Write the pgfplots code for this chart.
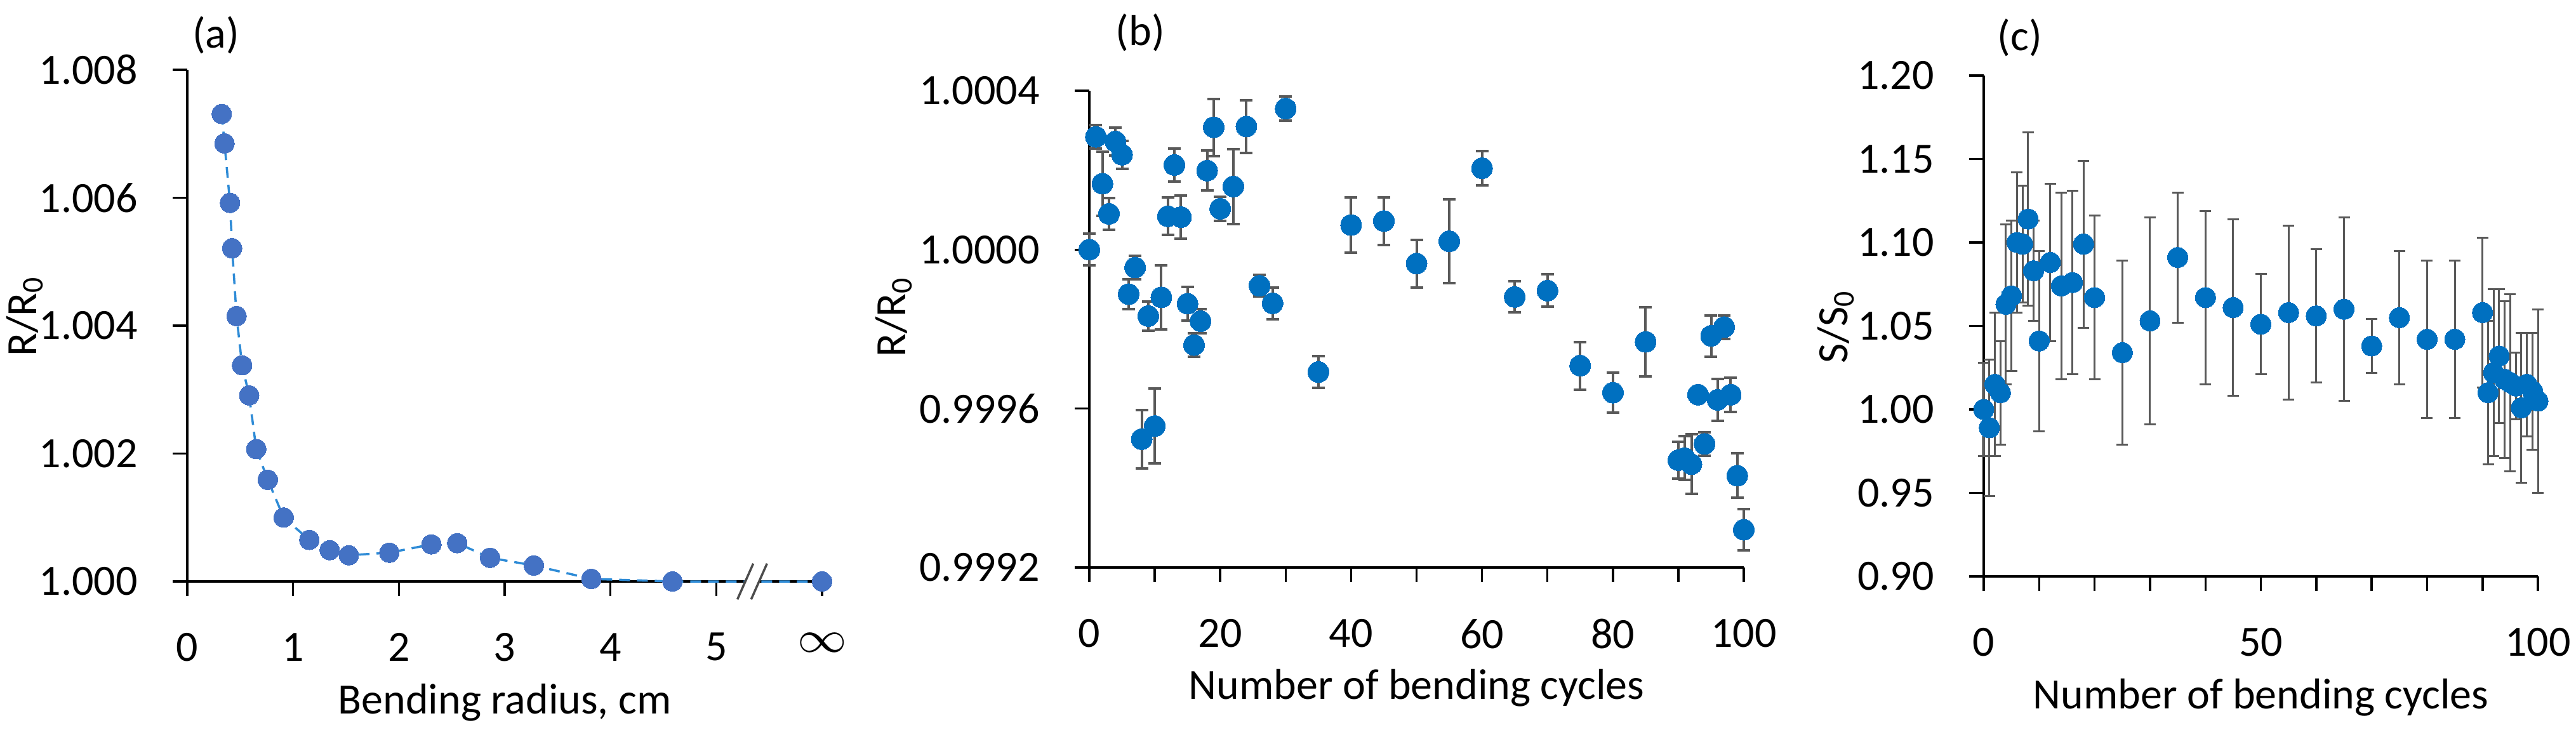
\documentclass[border=0pt]{standalone}
\usepackage{fontspec}
\setmainfont{Carlito}
\usepackage{pgfplots}
\usepackage{pgfplotstable}
\pgfplotsset{compat=1.18}

\definecolor{ptA}{HTML}{4472C4}
\definecolor{lnA}{HTML}{2E8BD6}
\definecolor{ptB}{HTML}{0070C0}
\definecolor{errc}{HTML}{595959}
\newcommand\fsz{\fontsize{6.8pt}{8pt}\selectfont}

% (a) R/R0 against bending radius; r = 6 stands for infinity
\pgfplotstableread{
r ratio
0.326 1.00731
0.352 1.00685
0.404 1.00592
0.424 1.00521
0.466 1.00415
0.518 1.00338
0.585 1.00291
0.652 1.00207
0.761 1.00159
0.911 1.00100
1.154 1.00065
1.346 1.00049
1.527 1.00041
1.910 1.00045
2.308 1.00058
2.552 1.00060
2.862 1.00037
3.276 1.00025
3.820 1.00004
4.586 1.00000
6.000 1.00000
}\bendtab

% (b) R/R0 against cycles, stored as dev = (R/R0 - 1)*1e4 to keep precision
\pgfplotstableread{
n dev err
0 0.00 0.40
1 2.84 0.30
2 1.66 0.80
3 0.90 0.40
4 2.72 0.35
5 2.39 0.35
6 -1.12 0.37
7 -0.45 0.30
8 -4.77 0.74
9 -1.67 0.37
10 -4.44 0.94
11 -1.20 0.80
12 0.84 0.47
13 2.13 0.42
14 0.82 0.55
15 -1.36 0.43
16 -2.40 0.30
17 -1.80 0.30
18 1.99 0.50
19 3.08 0.72
20 1.03 0.30
22 1.59 0.94
24 3.10 0.66
26 -0.91 0.27
28 -1.35 0.40
30 3.55 0.30
35 -3.08 0.40
40 0.62 0.70
45 0.72 0.60
50 -0.35 0.60
55 0.21 1.05
60 2.05 0.43
65 -1.19 0.39
70 -1.03 0.41
75 -2.92 0.60
80 -3.60 0.50
85 -2.32 0.87
90 -5.30 0.47
91 -5.25 0.55
92 -5.40 0.75
93 -3.65 0.10
94 -4.89 0.30
95 -2.17 0.52
96 -3.78 0.53
97 -1.95 0.30
98 -3.65 0.43
99 -5.69 0.56
100 -7.05 0.52
}\cycR

% (c) S/S0 against cycles
\pgfplotstableread{
n s err
0 1.000 0.028
1 0.989 0.041
2 1.015 0.043
3 1.010 0.031
4 1.063 0.048
5 1.068 0.045
6 1.100 0.042
7 1.099 0.035
8 1.114 0.052
9 1.083 0.030
10 1.041 0.054
12 1.088 0.047
14 1.074 0.056
16 1.076 0.055
18 1.099 0.050
20 1.067 0.049
25 1.034 0.055
30 1.053 0.062
35 1.091 0.039
40 1.067 0.052
45 1.061 0.053
50 1.051 0.030
55 1.058 0.052
60 1.056 0.040
65 1.060 0.055
70 1.038 0.016
75 1.055 0.040
80 1.042 0.047
85 1.042 0.047
90 1.058 0.045
91 1.010 0.043
92 1.022 0.050
93 1.032 0.040
94 1.018 0.047
95 1.016 0.053
96 1.014 0.020
97 1.001 0.045
98 1.015 0.031
99 1.011 0.035
100 1.005 0.055
}\cycS

\pgfplotsset{
  excel/.style={
    scale only axis, anchor=south west,
    axis lines=left, axis line style={-, line width=0.35pt},
    tick align=outside, major tick length=2.3pt,
    tick style={black, line width=0.35pt},
    every tick label/.append style={font=\fsz},
    xticklabel style={yshift=-2.3pt},
    yticklabel style={xshift=-2pt},
    enlargelimits=false, clip=false, scaled ticks=false,
  },
  dots/.style={ptB, only marks, mark=*, mark size=#1,
    mark options={draw=ptB, fill=ptB, line width=0pt}},
}

\begin{document}
\begin{tikzpicture}
\useasboundingbox (0,0) rectangle (405.8pt,-114.9pt);

% ---- (a)
\begin{axis}[excel, at={(29.5pt,-91.6pt)}, width=100pt, height=80.6pt,
  xmin=0, xmax=6, ymin=1, ymax=1.008,
  xtick={0,1,2,3,4,5,6}, xticklabels={0,1,2,3,4,5,$\infty$},
  ytick={1,1.002,1.004,1.006,1.008},
  yticklabels={1.000,1.002,1.004,1.006,1.008},
]
\addplot[lnA, line width=0.35pt, dash pattern=on 1.7pt off 1.1pt,
  mark=*, mark size=1.55pt, mark options={solid, draw=ptA, line width=0pt, fill=ptA}]
  table[x=r, y=ratio] {\bendtab};
\fill[white] (axis cs:5.20,0.99972) -- (axis cs:5.33,0.99972)
  -- (axis cs:5.48,1.00028) -- (axis cs:5.35,1.00028) -- cycle;
\draw[black!70, line width=0.35pt] (axis cs:5.20,0.99972) -- (axis cs:5.35,1.00028);
\draw[black!70, line width=0.35pt] (axis cs:5.33,0.99972) -- (axis cs:5.48,1.00028);
\node[font=\fsz, rotate=90] at (rel axis cs:-0.256,0.52) {R/R\textsubscript{0}};
\node[font=\fsz] at (rel axis cs:0.5,-0.236) {Bending radius, cm};
\node[font=\fsz] at (rel axis cs:0.045,1.068) {(a)};
\end{axis}

% ---- (b)
\begin{axis}[excel, at={(171.6pt,-89.4pt)}, width=103.1pt, height=75.1pt,
  xmin=0, xmax=100, ymin=-8, ymax=4,
  xtick={0,10,...,100}, xticklabels={0,,20,,40,,60,,80,,100},
  ytick={-8,-4,0,4}, yticklabels={0.9992,0.9996,1.0000,1.0004},
]
\addplot[dots=1.65pt, forget plot,
  error bars/.cd, y dir=both, y explicit, error mark=|,
  error bar style={errc, solid, line width=0.4pt},
  error mark options={errc, solid, line width=0.4pt, mark size=1pt}]
  table[x=n, y=dev, y error=err] {\cycR};
\addplot[dots=1.65pt] table[x=n, y=dev] {\cycR};
\node[font=\fsz, rotate=90] at (rel axis cs:-0.299,0.527) {R/R\textsubscript{0}};
\node[font=\fsz] at (rel axis cs:0.5,-0.253) {Number of bending cycles};
\node[font=\fsz] at (rel axis cs:0.078,1.122) {(b)};
\end{axis}

% ---- (c)
\begin{axis}[excel, at={(312.5pt,-90.8pt)}, width=87.3pt, height=78.9pt,
  xmin=0, xmax=100, ymin=0.9, ymax=1.2,
  xtick={0,10,...,100}, xticklabels={0,,,,,50,,,,,100},
  ytick={0.9,0.95,1,1.05,1.1,1.15,1.2},
  yticklabels={0.90,0.95,1.00,1.05,1.10,1.15,1.20},
]
\addplot[dots=1.6pt, forget plot,
  error bars/.cd, y dir=both, y explicit, error mark=|,
  error bar style={errc, solid, line width=0.3pt},
  error mark options={errc, solid, line width=0.3pt, mark size=0.9pt}]
  table[x=n, y=s, y error=err] {\cycS};
\addplot[dots=1.6pt] table[x=n, y=s] {\cycS};
\node[font=\fsz, rotate=90] at (rel axis cs:-0.267,0.50) {S/S\textsubscript{0}};
\node[font=\fsz] at (rel axis cs:0.5,-0.242) {Number of bending cycles};
\node[font=\fsz] at (rel axis cs:0.065,1.076) {(c)};
\end{axis}
\end{tikzpicture}
\end{document}
